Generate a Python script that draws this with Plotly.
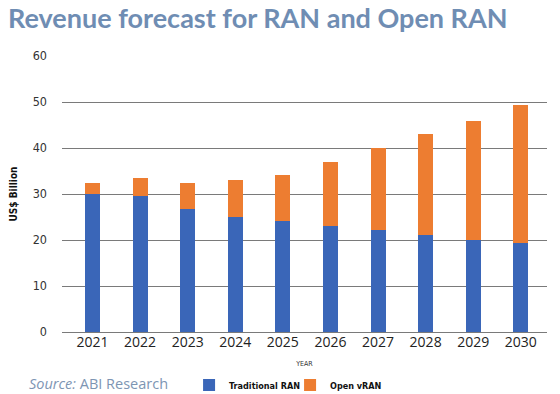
import plotly.graph_objects as go

years = ["2021", "2022", "2023", "2024", "2025", "2026", "2027", "2028", "2029", "2030"]
traditional_ran = [30.1, 29.5, 26.7, 25.0, 24.1, 23.1, 22.1, 21.0, 20.0, 19.3]
open_vran = [2.3, 4.0, 5.7, 8.1, 10.1, 13.9, 17.9, 22.1, 25.9, 30.0]
y_ticks = [0, 10, 20, 30, 40, 50, 60]

cond = dict(family="DejaVu Sans Condensed, DejaVu Sans, sans-serif")

fig = go.Figure()
fig.add_trace(go.Bar(x=years, y=traditional_ran, name="<b>Traditional RAN</b>",
                     marker=dict(color="#3a66b8", line=dict(width=0))))
fig.add_trace(go.Bar(x=years, y=open_vran, name="<b>Open vRAN</b>",
                     marker=dict(color="#ed7d31", line=dict(width=0))))

# page has an 8px body margin: figure is 552x386 placed at (8, 8)
fig.update_layout(
    barmode="stack",
    bargap=0.685,
    width=552, height=386,
    margin=dict(l=54, r=13, t=48, b=62, autoexpand=False),
    plot_bgcolor="white", paper_bgcolor="white",
    showlegend=True,
    legend=dict(orientation="h", x=0.262, y=-0.192, xanchor="left", yanchor="middle",
                font=dict(**cond, size=9, color="#111"),
                entrywidth=56, entrywidthmode="pixels",
                itemwidth=30, traceorder="normal", itemclick=False),
    title=dict(text="<b>Revenue forecast for RAN and Open RAN</b>",
               x=0.0, xanchor="left", y=0.972, yanchor="middle",
               font=dict(family="Lato", size=27, color="#6f8db3")),
    xaxis=dict(range=[-0.64, 9.55], showgrid=False, showline=False, ticks="",
               tickfont=dict(family="Open Sans", size=14, color="#222"),
               title=dict(text="YEAR", font=dict(**cond, size=7, color="#333"),
                          standoff=11)),
    yaxis=dict(range=[0, 60], tickvals=y_ticks, showgrid=True, gridcolor="#7a7a7a",
               gridwidth=1, zeroline=True, zerolinecolor="#7a7a7a", zerolinewidth=1,
               showline=False, ticks="", ticklabelstandoff=14,
               tickfont=dict(**cond, size=12.5, color="#333"),
               title=dict(text="<b>US$ Billion</b>",
                          font=dict(**cond, size=10, color="#111"), standoff=16)),
)

fig.add_annotation(xref="paper", yref="paper", x=-0.072, y=-0.185, xanchor="left",
                   yanchor="middle", showarrow=False,
                   text="<i>Source:</i> ABI Research",
                   font=dict(family="Open Sans", size=14.5, color="#7d95b3"))

fig.write_html("out.html")
